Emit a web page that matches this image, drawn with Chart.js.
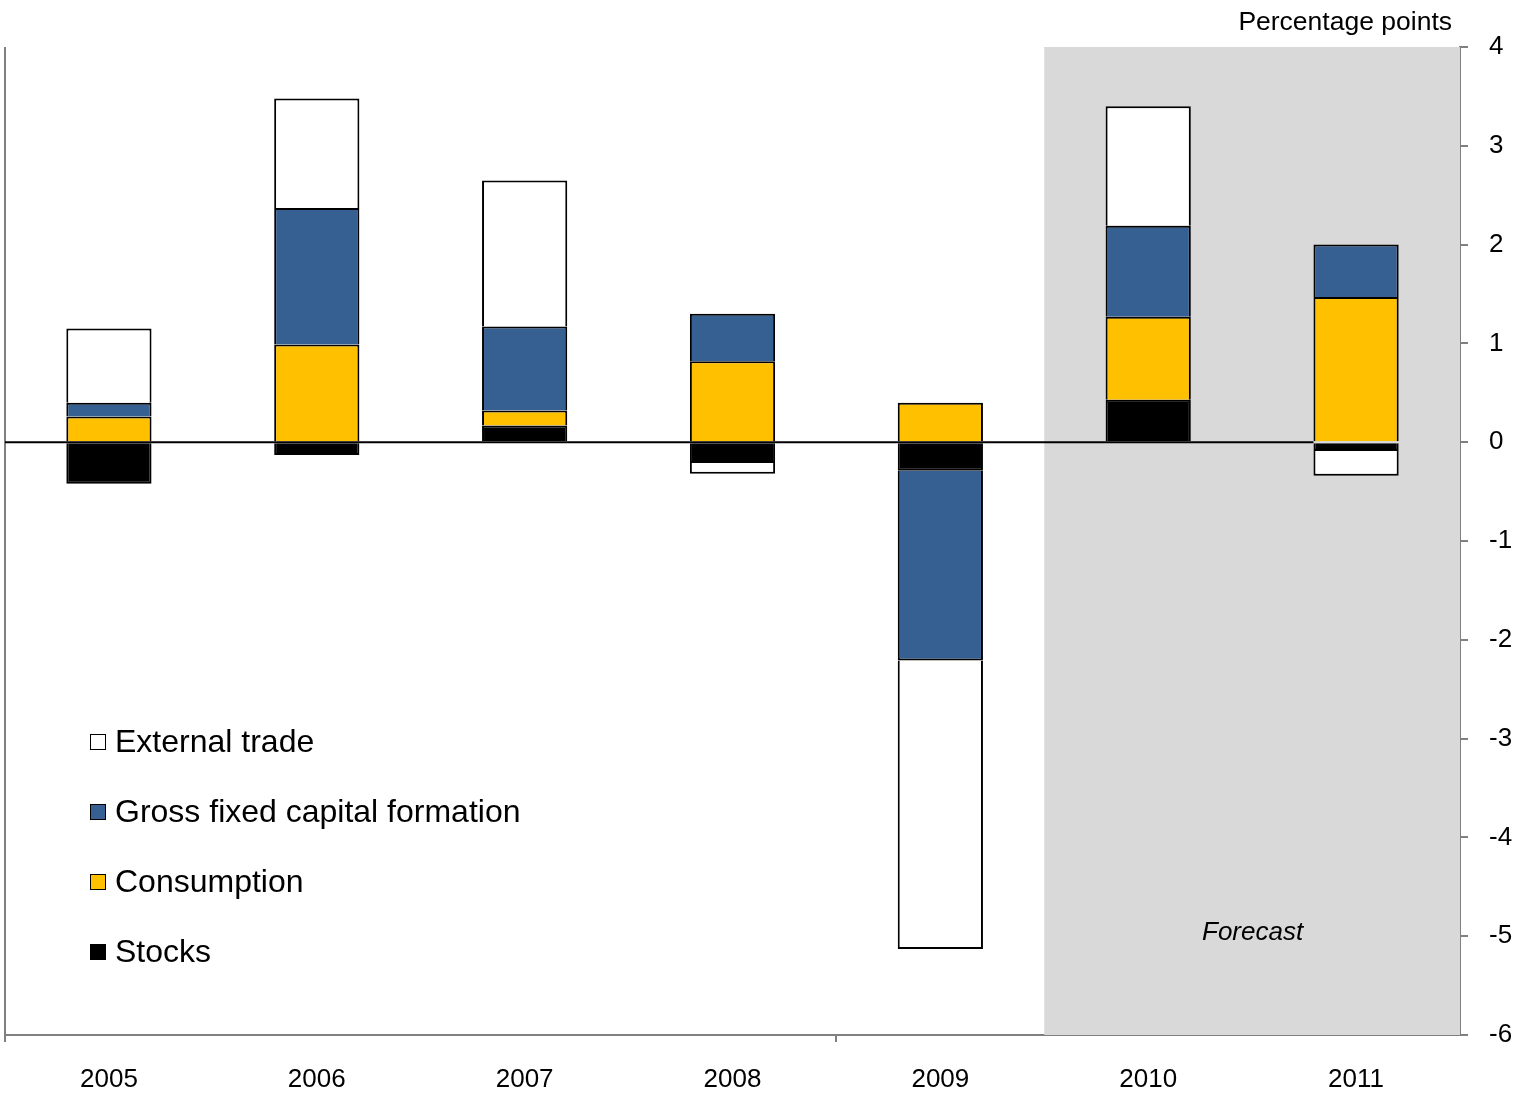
<!DOCTYPE html>
<html>
<head>
<meta charset="utf-8">
<script src="https://cdn.jsdelivr.net/npm/chart.js@4"></script>
<style>
  body { margin: 0; background: #fff; font-family: "Liberation Sans", Arial, sans-serif; }
  #wrap { position: relative; width: 1518px; height: 1095px; }
  #legend { position: absolute; left: 90px; top: 722px; }
  .item { height: 70px; line-height: 38px; font-size: 32px; color: #000; white-space: nowrap; }
  .sw { display: inline-block; width: 14px; height: 14px; border: 1px solid #000; margin-right: 9px; vertical-align: 2px; }
  #unit { position: absolute; right: 66px; top: 6px; font-size: 26.5px; line-height: 30px; }
  #fc { position: absolute; left: 1202px; top: 915px; font-size: 26px; line-height: 32px; font-style: italic; }
</style>
</head>
<body>
<div id="wrap">
  <canvas id="chart1" width="1518" height="1095"></canvas>
  <div id="unit">Percentage points</div>
  <div id="fc">Forecast</div>
  <div id="legend"></div>
</div>
<script>
// categories + series (contributions, percentage points)
var years = ["2005", "2006", "2007", "2008", "2009", "2010", "2011"];
var stocks      = [-0.42, -0.13, 0.17, -0.21, -0.29, 0.43, -0.09];
var consumption = [0.26, 0.99, 0.15, 0.82, 0.40, 0.84, 1.47];
var gfcf        = [0.14, 1.38, 0.85, 0.48, -1.92, 0.92, 0.53];
var extTrade    = [0.75, 1.11, 1.48, -0.11, -2.92, 1.21, -0.25];
var yTicks = [-6, -5, -4, -3, -2, -1, 0, 1, 2, 3, 4];
var forecastFrom = 4.5; // between 2009 and 2010

var font = '"Liberation Sans", Arial, sans-serif';

function ds(label, data, color) {
  return {
    label: label,
    data: data,
    backgroundColor: color,
    borderColor: '#000',
    borderWidth: 2,
    borderSkipped: 'start',
    barPercentage: 0.41,
    categoryPercentage: 1.0
  };
}

// grey forecast band + left axis line + zero line
var extras = {
  id: 'extras',
  beforeDatasetsDraw: function(chart) {
    var c = chart.ctx, a = chart.chartArea, x = chart.scales.x;
    var x0 = x.getPixelForValue(forecastFrom);
    c.save();
    c.fillStyle = '#d9d9d9';
    c.fillRect(x0, a.top, a.right - x0, a.bottom - a.top);
    c.strokeStyle = '#808080';
    c.lineWidth = 2;
    c.beginPath();
    c.moveTo(a.left, a.top);
    c.lineTo(a.left, a.bottom);
    c.stroke();
    c.restore();
  },
  afterDatasetsDraw: function(chart) {
    var c = chart.ctx, a = chart.chartArea, y = chart.scales.y;
    var bars = chart.getDatasetMeta(0).data;
    var last = bars[bars.length - 1];
    var y0 = y.getPixelForValue(0);
    c.save();
    c.strokeStyle = '#000';
    c.lineWidth = 2;
    c.beginPath();
    c.moveTo(a.left, y0);
    c.lineTo(last.x - last.width / 2, y0);
    c.stroke();
    c.restore();
  }
};

var configg = {
  type: 'bar',
  data: {
    labels: years,
    datasets: [
      ds('Stocks', stocks, '#000000'),
      ds('Consumption', consumption, '#ffc000'),
      ds('Gross fixed capital formation', gfcf, '#366092'),
      ds('External trade', extTrade, '#ffffff')
    ]
  },
  options: {
    responsive: false,
    animation: false,
    layout: { padding: { left: 5, top: 47, right: 0, bottom: 0 } },
    plugins: { legend: { display: false }, tooltip: { enabled: false } },
    scales: {
      x: {
        stacked: true,
        afterFit: function(s) { s.height = 60; },
        grid: {
          offset: true,
          drawOnChartArea: false,
          tickLength: 7,
          lineWidth: 2,
          color: function(ctx) { return (ctx.index === 0 || ctx.index === 4) ? '#808080' : 'rgba(0,0,0,0)'; }
        },
        border: { display: true, color: '#808080', width: 2 },
        ticks: { color: '#000', font: { family: font, size: 26 }, padding: 22, maxRotation: 0 }
      },
      y: {
        stacked: true,
        position: 'right',
        min: -6,
        max: 4,
        afterFit: function(s) { s.width = 58; },
        afterBuildTicks: function(s) { s.ticks = yTicks.map(function(v) { return { value: v }; }); },
        grid: { drawOnChartArea: false, tickLength: 8, lineWidth: 2, color: '#808080' },
        border: { display: true, color: '#808080', width: 2 },
        ticks: { color: '#000', font: { family: font, size: 26 }, padding: 21 }
      }
    }
  },
  plugins: [extras]
};

var ctx1 = document.getElementById('chart1');
document.myBars = new Chart(ctx1, configg);

// legend, top entry = last dataset
var legend = document.getElementById('legend');
configg.data.datasets.slice().reverse().forEach(function(d) {
  var row = document.createElement('div');
  row.className = 'item';
  var sw = document.createElement('span');
  sw.className = 'sw';
  sw.style.background = d.backgroundColor;
  row.appendChild(sw);
  row.appendChild(document.createTextNode(d.label));
  legend.appendChild(row);
});
</script>
</body>
</html>
